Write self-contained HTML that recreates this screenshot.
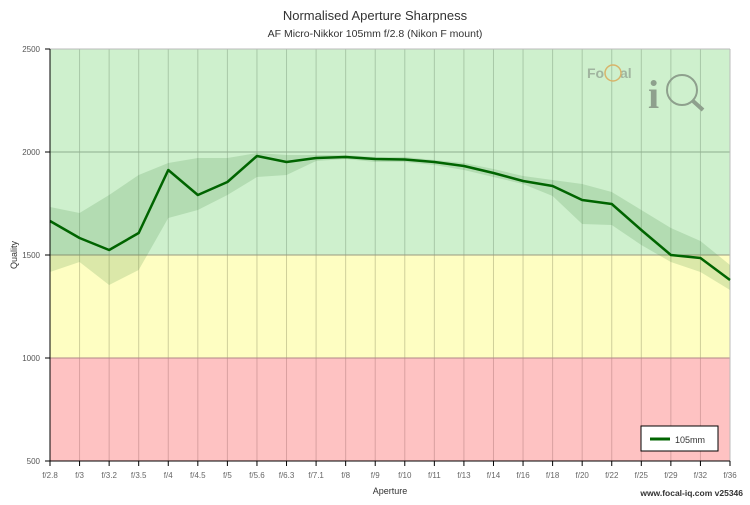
<!DOCTYPE html>
<html><head><meta charset="utf-8"><style>
body{margin:0;background:#fff;width:750px;height:500px;overflow:hidden;font-family:"Liberation Sans",sans-serif}
</style></head><body>
<svg width="750" height="500" xmlns="http://www.w3.org/2000/svg" font-family="Liberation Sans, sans-serif">
<text x="375" y="20" text-anchor="middle" font-size="13" fill="#333">Normalised Aperture Sharpness</text>
<text x="375" y="37" text-anchor="middle" font-size="10.5" fill="#333">AF Micro-Nikkor 105mm f/2.8 (Nikon F mount)</text>
<rect x="50" y="49" width="680" height="206" fill="#cef0cd"/>
<rect x="50" y="255" width="680" height="103" fill="#fefec2"/>
<rect x="50" y="358" width="680" height="103" fill="#fec2c2"/>
<g id="vg" stroke-width="1"></g>
<line x1="50" y1="152" x2="730" y2="152" stroke="#8fae8e"/>
<line x1="50" y1="255" x2="730" y2="255" stroke="#9a9a80"/>
<line x1="50" y1="358" x2="730" y2="358" stroke="#b08888"/>
<line x1="730" y1="49" x2="730" y2="461" stroke="#bbb"/>
<line x1="50" y1="49" x2="730" y2="49" stroke="#bbb"/>
<g font-size="14" fill="#a0b49f" font-weight="bold"><text x="587" y="78">Fo</text><text x="620" y="78">al</text></g>
<circle cx="613" cy="73" r="8" fill="none" stroke="#d8b46a" stroke-width="1.5"/>
<text x="648" y="108" font-size="40" font-weight="bold" fill="#8ea08d" font-family="Liberation Serif, serif">i</text>
<circle cx="682" cy="90" r="15" fill="none" stroke="#8ea08d" stroke-width="2"/>
<line x1="693" y1="101" x2="703" y2="110" stroke="#8ea08d" stroke-width="4"/>
<polygon id="band" fill="#2e7d2e" fill-opacity="0.17"/>
<polyline id="ln" fill="none" stroke="#006400" stroke-width="2.5" stroke-linejoin="round"/>
<line x1="50" y1="49" x2="50" y2="462" stroke="#000"/>
<line x1="49" y1="461" x2="730" y2="461" stroke="#000"/>
<g font-size="8" fill="#555" text-anchor="end">
<text x="40" y="464">500</text><text x="40" y="361">1000</text><text x="40" y="258">1500</text><text x="40" y="155">2000</text><text x="40" y="52">2500</text></g>
<g stroke="#000"><line x1="45" y1="461" x2="50" y2="461"/><line x1="45" y1="358" x2="50" y2="358"/><line x1="45" y1="255" x2="50" y2="255"/><line x1="45" y1="152" x2="50" y2="152"/><line x1="45" y1="49" x2="50" y2="49"/></g>
<g id="xl" font-size="8" fill="#666" text-anchor="middle"></g>
<text x="390" y="494" font-size="9" fill="#333" text-anchor="middle">Aperture</text>
<text x="17" y="255" font-size="9" fill="#333" text-anchor="middle" transform="rotate(-90 17 255)">Quality</text>
<rect x="641" y="426" width="77" height="25" fill="#fff" stroke="#000"/>
<line x1="650" y1="439" x2="670" y2="439" stroke="#006400" stroke-width="3"/>
<text x="675" y="443" font-size="9" fill="#333">105mm</text>
<text x="743" y="496" font-size="8.5" font-weight="bold" fill="#333" text-anchor="end">www.focal-iq.com  v25346</text>
</svg>
<script>
var labs=["f/2.8","f/3","f/3.2","f/3.5","f/4","f/4.5","f/5","f/5.6","f/6.3","f/7.1","f/8","f/9","f/10","f/11","f/13","f/14","f/16","f/18","f/20","f/22","f/25","f/29","f/32","f/36"];
var line=[221,238,250,233,170,195,182,156,162,158,157,159,159.5,162,166,173,181,186,200,204,230,255,258,280];
var up=[207,213,195,175,163,158,158,153,155,155,155,157,157,160,163,169,176,180,184,192,210,228,241,265];
var lo=[272,262,285,270,218,210,195,177,175,161,159,162,162,165,170,177,184,196,224,225,245,262,272,290];
var ns="http://www.w3.org/2000/svg",s=680/23;
var vg=document.getElementById('vg'),xl=document.getElementById('xl');
function X(i){return 50+i*s}
for(var i=0;i<24;i++){var x=X(i);
[[49,255,"#a8c8a7"],[255,358,"#cfcf9a"],[358,461,"#d9a0a0"]].forEach(function(c){var l=document.createElementNS(ns,'line');l.setAttribute('x1',x);l.setAttribute('x2',x);l.setAttribute('y1',c[0]);l.setAttribute('y2',c[1]);l.setAttribute('stroke',c[2]);vg.appendChild(l);});
var t=document.createElementNS(ns,'line');t.setAttribute('x1',x);t.setAttribute('x2',x);t.setAttribute('y1',461);t.setAttribute('y2',466);t.setAttribute('stroke','#000');xl.appendChild(t);
var tx=document.createElementNS(ns,'text');tx.setAttribute('x',x);tx.setAttribute('y',478);tx.textContent=labs[i];xl.appendChild(tx);}
var p=[];for(i=0;i<24;i++)p.push(X(i)+","+up[i]);for(i=23;i>=0;i--)p.push(X(i)+","+lo[i]);
document.getElementById('band').setAttribute('points',p.join(' '));
p=[];for(i=0;i<24;i++)p.push(X(i)+","+line[i]);
document.getElementById('ln').setAttribute('points',p.join(' '));
</script>
</body></html>
